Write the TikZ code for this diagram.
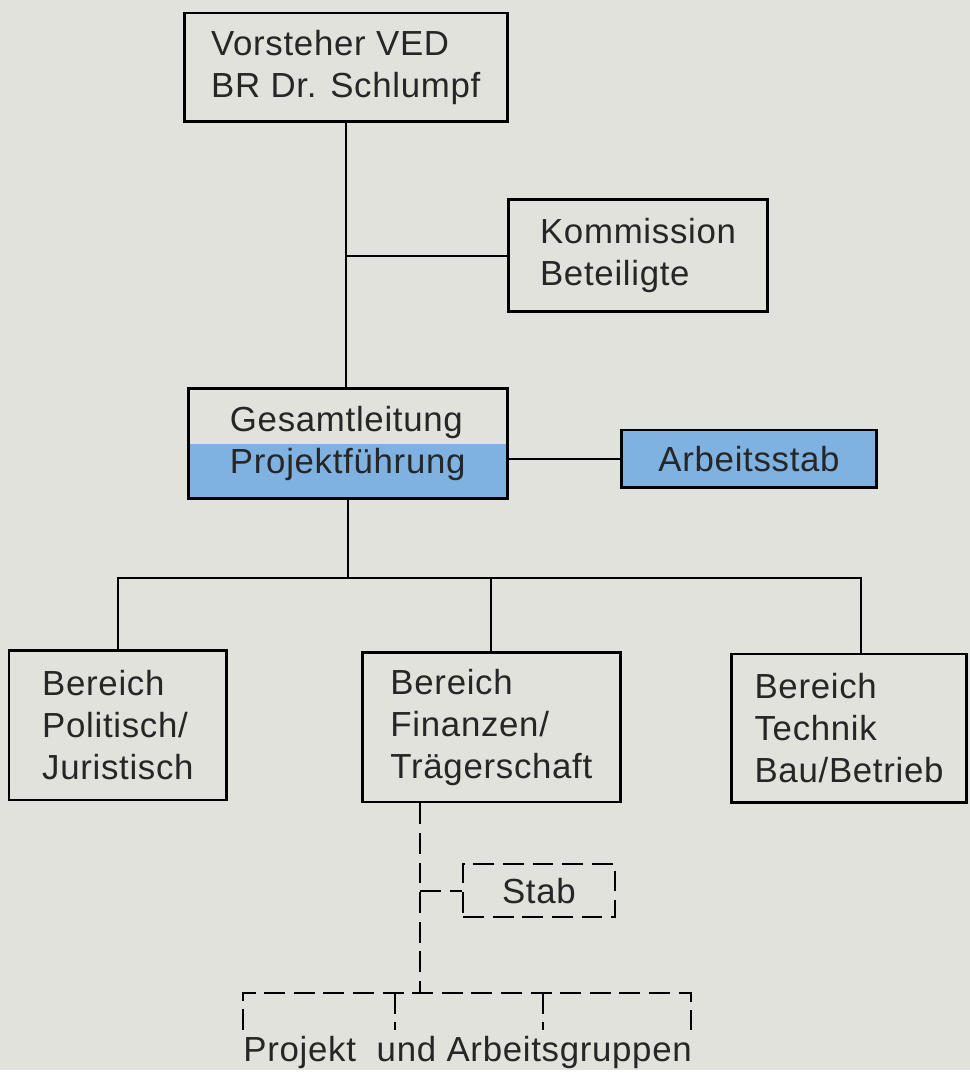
\documentclass[tikz,border=0pt]{standalone}
\usepackage{fontspec}
\setmainfont[LetterSpace=2]{Liberation Sans}
\usetikzlibrary{calc}
\definecolor{paper}{RGB}{226,226,221}
\definecolor{bluefill}{RGB}{128,178,225}
\begin{document}
\begin{tikzpicture}[x=0.1mm, y=-0.1mm,
      every node/.style={font=\fontsize{10}{12}\selectfont, text=black!85},
      unit/.style={draw, line width=0.8pt, align=left, inner sep=0pt},
      halfblue/.style={path picture={\fill[bluefill] (path picture bounding box.west)
          rectangle (path picture bounding box.south east);}},
      link/.style={line width=0.6pt},
      dashlink/.style={line width=0.6pt, dash pattern=on 6pt off 2.5pt},
    ]
    % paper
    \fill[paper] (0,0) rectangle (979,1080);
    % Leitung
    \node[unit, minimum width=3.26cm, minimum height=1.10cm] (V) at (349,68)
      {Vorsteher VED\\BR Dr. Schlumpf};
    \node[unit, minimum width=2.62cm, minimum height=1.13cm] (K) at (644,258)
      {Kommission\\Beteiligte};
    \node[unit, halfblue, minimum width=3.22cm, minimum height=1.11cm] (G) at (351,448)
      {Gesamtleitung\\Projektführung};
    \node[unit, fill=bluefill, minimum width=2.58cm, minimum height=0.58cm] (A) at (756,463)
      {Arbeitsstab};
    % Bereiche
    \node[unit, minimum width=2.20cm, minimum height=1.51cm] (B1) at (119,732)
      {Bereich\\Politisch/\\Juristisch};
    \node[unit, minimum width=2.61cm, minimum height=1.51cm] (B2) at (496,734)
      {Bereich\\Finanzen/\\Trägerschaft};
    \node[unit, minimum width=2.37cm, minimum height=1.50cm] (B3) at (857,735)
      {Bereich\\Technik\\Bau/Betrieb};
    % Stab and groups
    \node[unit, dashlink, minimum width=1.53cm, minimum height=0.54cm] (S) at (544,899) {Stab};
    \node (PA) at (472,1062) {Projekt\ \ und Arbeitsgruppen};
    \coordinate (bus) at (351,583);
    \coordinate (trunk) at (424,1002);
    % Lines
    \draw[link] (V.south) -- (V.south |- G.north);
    \draw[link] (V.south |- K.west) -- (K.west);
    \draw[link] (G.east |- A.west) -- (A.west);
    \draw[link] (G.south) -- (bus);
    \draw[link] (B1.north) -- (B1.north |- bus) -- ([xshift=1.2mm]B3.north |- bus)
      -- ([xshift=1.2mm]B3.north);
    \draw[link] (B2.north |- bus) -- (B2.north);
    % dashed part
    \draw[dashlink] (B2.south -| trunk) -- (trunk);
    \draw[dashlink] (S.west -| trunk) -- (S.west);
    \draw[dashlink] (245,1040) -- (245,1002) -- (697,1002) -- (697,1040);
    \foreach \gx in {399, 548} \draw[dashlink] (\gx,1002) -- (\gx,1040);
  \end{tikzpicture}
\end{document}
